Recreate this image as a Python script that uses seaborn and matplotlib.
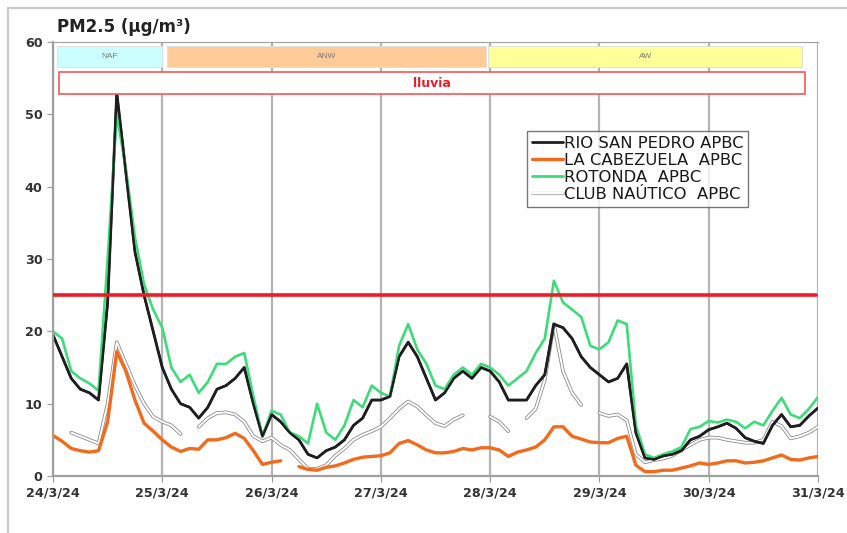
import numpy as np
import pandas as pd
import matplotlib
matplotlib.use("Agg")
import matplotlib.pyplot as plt
import matplotlib.patches as mpatches
import matplotlib.patheffects as pe
from matplotlib.lines import Line2D
import seaborn as sns

# hourly readings, one value every 2 hours (24/3/24 00h -> 31/3/24 00h)
hours = list(range(0, 169, 2))

rio_san_pedro = [19.5, 16.5, 13.5, 12.0, 11.5, 10.5, 24, 53, 42, 31, 25, 20, 15,
                 12, 10, 9.5, 8, 9.5, 12, 12.5, 13.5, 15, 10, 5.5, 8.5,
                 7.5, 6, 5, 3, 2.5, 3.5, 4, 5, 7, 8, 10.5, 10.5,
                 11, 16.5, 18.5, 16.5, 13.5, 10.5, 11.5, 13.5, 14.5, 13.5, 15, 14.5,
                 13, 10.5, 10.5, 10.5, 12.5, 14, 21, 20.5, 19, 16.5, 15, 14,
                 13, 13.5, 15.5, 6, 2.5, 2.3, 2.8, 3, 3.5, 5, 5.5, 6.4,
                 6.8, 7.3, 6.6, 5.3, 4.8, 4.5, 7, 8.5, 6.8, 7, 8.3, 9.4]

la_cabezuela = [5.6, 4.8, 3.8, 3.5, 3.3, 3.5, 7.5, 17.2, 14.5, 10.5, 7.3, 6.2, 5,
                4, 3.4, 3.8, 3.7, 5, 5, 5.3, 5.9, 5.2, 3.5, 1.6, 1.9,
                2.1, np.nan, 1.3, 0.9, 0.8, 1.2, 1.4, 1.8, 2.3, 2.6, 2.7, 2.8,
                3.2, 4.5, 4.9, 4.3, 3.6, 3.2, 3.2, 3.4, 3.8, 3.6, 3.9, 3.9,
                3.6, 2.7, 3.3, 3.6, 4.0, 5.0, 6.8, 6.8, 5.5, 5.1, 4.7, 4.6,
                4.6, 5.2, 5.5, 1.5, 0.6, 0.6, 0.8, 0.8, 1.1, 1.4, 1.8, 1.6,
                1.8, 2.1, 2.1, 1.8, 1.9, 2.1, 2.5, 2.9, 2.3, 2.2, 2.5, 2.7]

rotonda = [20, 19, 14.5, 13.5, 12.8, 11.8, 30, 50, 42.5, 33, 26.5, 23, 20.5,
           15, 13, 14, 11.5, 13, 15.5, 15.5, 16.5, 17, 11, 5.5, 9,
           8.5, 6, 5.5, 4.5, 10, 6, 5, 7, 10.5, 9.5, 12.5, 11.5,
           11, 18, 21, 17.5, 15.5, 12.5, 12, 14, 15, 14, 15.5, 15,
           14, 12.5, 13.5, 14.5, 17, 19, 27, 24, 23, 22, 18, 17.5,
           18.5, 21.5, 21, 7, 3, 2.5, 3, 3.4, 4, 6.5, 6.8, 7.6,
           7.4, 7.8, 7.5, 6.6, 7.5, 7, 9, 10.8, 8.5, 8, 9.3, 10.9]

club_nautico = [np.nan, np.nan, 6.0, 5.5, 5.0, 4.5, 10, 18.5, 15.5, 12.5, 10, 8.2, 7.5,
                7, 5.8, np.nan, 6.8, 8, 8.7, 8.8, 8.5, 7.5, 5.5, 4.8, 5.3,
                4.3, 3.6, 2.3, 1.0, 1.0, 1.5, 2.8, 3.8, 5.0, 5.7, 6.2, 6.8,
                8, 9.3, 10.3, 9.6, 8.4, 7.3, 6.9, 7.8, 8.4, np.nan, np.nan, 8.2,
                7.5, 6.2, np.nan, 8.0, 9.3, 13.3, 21, 14.5, 11.5, 9.8, np.nan, 8.7,
                8.3, 8.5, 7.7, 3, 1.9, 2.2, 2.4, 2.8, 3.6, 4.3, 5.0, 5.3,
                5.3, 5.0, 4.8, 4.6, 4.6, 5.0, 7.5, 6.9, 5.2, 5.5, 6.0, 6.8]

series_names = ["RIO SAN PEDRO APBC", "LA CABEZUELA  APBC", "ROTONDA  APBC", "CLUB NAÚTICO  APBC"]
day_labels = ["24/3/24", "25/3/24", "26/3/24", "27/3/24", "28/3/24", "29/3/24", "30/3/24", "31/3/24"]
limit_value = 25

# air mass periods (start hour, end hour, label)
periods = [(0.9, 23.9, "NAF", "#ccffff"), (25, 95, "ANW", "#ffcc99"), (95.6, 164.5, "AW", "#ffff99")]
rain = (1.3, 165.1, "lluvia")

df = pd.DataFrame({"hour": hours, series_names[0]: rio_san_pedro,
                   series_names[1]: la_cabezuela, series_names[2]: rotonda,
                   series_names[3]: club_nautico})
long = df.melt(id_vars="hour", var_name="station", value_name="pm25")
# missing hours break the line: give each continuous stretch its own unit
long["seg"] = long.groupby("station")["pm25"].transform(lambda s: s.isna().cumsum())
long = long.dropna()

sns.set_style("white")
plt.rcParams["font.family"] = ["DejaVu Sans"]

fig = plt.figure(figsize=(8.47, 5.33), dpi=100)
ax = fig.add_axes([53 / 847, 57 / 533, 765 / 847, 434 / 533])

colors = {series_names[0]: "#1e1e1e", series_names[1]: "#f26a1b", series_names[2]: "#3ddc78"}
widths = {series_names[0]: 2.0, series_names[1]: 2.4, series_names[2]: 1.9}

def draw(name, color, lw):
    sub = long[long.station == name]
    sns.lineplot(data=sub, x="hour", y="pm25", units="seg", estimator=None,
                 ax=ax, color=color, lw=lw, legend=False)

# club nautico: white line with grey outline
draw(series_names[3], "#8a8a8a", 2.6)
draw(series_names[3], "white", 1.4)
for name in [series_names[1], series_names[0], series_names[2]]:
    draw(name, colors[name], widths[name])
# black drawn over green at peaks
draw(series_names[0], colors[series_names[0]], 1.6)

ax.plot([0, 167.5], [limit_value, limit_value], color="#ee1c25", lw=2.6, zorder=5)

for start, end, label, col in periods:
    ax.add_patch(mpatches.Rectangle((start, 56.6), end - start, 2.8, facecolor=col,
                                    edgecolor="#dddddd", lw=0.6, zorder=4))
    ax.text((start + end) / 2, 58.0, label, ha="center", va="center", fontsize=6,
            color="#777777", family="Liberation Sans", zorder=5)
ax.add_patch(mpatches.Rectangle((rain[0], 52.8), rain[1] - rain[0], 3.0, facecolor="white",
                                edgecolor="#f05a5a", lw=1.2, zorder=4))
ax.text((rain[0] + rain[1]) / 2, 54.3, rain[2], ha="center", va="center", fontsize=9,
        color="#e8202a", fontweight="bold", zorder=5)

ax.set_xlim(0, 168)
ax.set_ylim(0, 60)
ax.set_xticks(range(0, 169, 24))
ax.set_xticklabels(day_labels)
ax.set_yticks(range(0, 61, 10))
ax.set_xlabel("")
ax.set_ylabel("")
ax.grid(axis="x", color="#b4b4b4", lw=1.6)
ax.grid(axis="y", visible=False)
ax.tick_params(axis="both", labelsize=9.2, labelcolor="#333333", length=4, color="#999999",
               direction="out", left=True, bottom=True)
for lab in ax.get_xticklabels() + ax.get_yticklabels():
    lab.set_fontweight("bold")
for side in ["left", "bottom", "top", "right"]:
    ax.spines[side].set_color("#a0a0a0")
    ax.spines[side].set_linewidth(1.6)
ax.spines["top"].set_linewidth(0.8)
ax.spines["right"].set_visible(False)

handles = [Line2D([], [], color=colors[series_names[0]], lw=2),
           Line2D([], [], color=colors[series_names[1]], lw=2.4),
           Line2D([], [], color=colors[series_names[2]], lw=2),
           Line2D([], [], color="white", lw=1.4, path_effects=[
               pe.Stroke(linewidth=2.4, foreground="#bbbbbb"), pe.Normal()])]
leg = ax.legend(handles, series_names, loc="upper left", bbox_to_anchor=(0.6196, 0.795),
                borderaxespad=0, frameon=True, fancybox=False,
                prop={"family": "DejaVu Sans", "size": 11.8},
                handlelength=1.9, handletextpad=0.05, labelspacing=0.12, borderpad=0.3)
leg.get_frame().set_edgecolor("#555555")
leg.get_frame().set_linewidth(1.0)
leg.set_zorder(6)
for t in leg.get_texts():
    t.set_color("#1a1a1a")

fig.text(57 / 847, 1 - 27 / 533, "PM2.5 (µg/m³)", fontsize=12, fontweight="bold",
         color="#222222", va="center", ha="left")

fig.patches.append(mpatches.Rectangle((8 / 847, -0.1), 2, 1.1 - 8 / 533, transform=fig.transFigure,
                                      facecolor="none", edgecolor="#c8c8c8", lw=1.5))

fig.savefig("out.png", dpi=100)
